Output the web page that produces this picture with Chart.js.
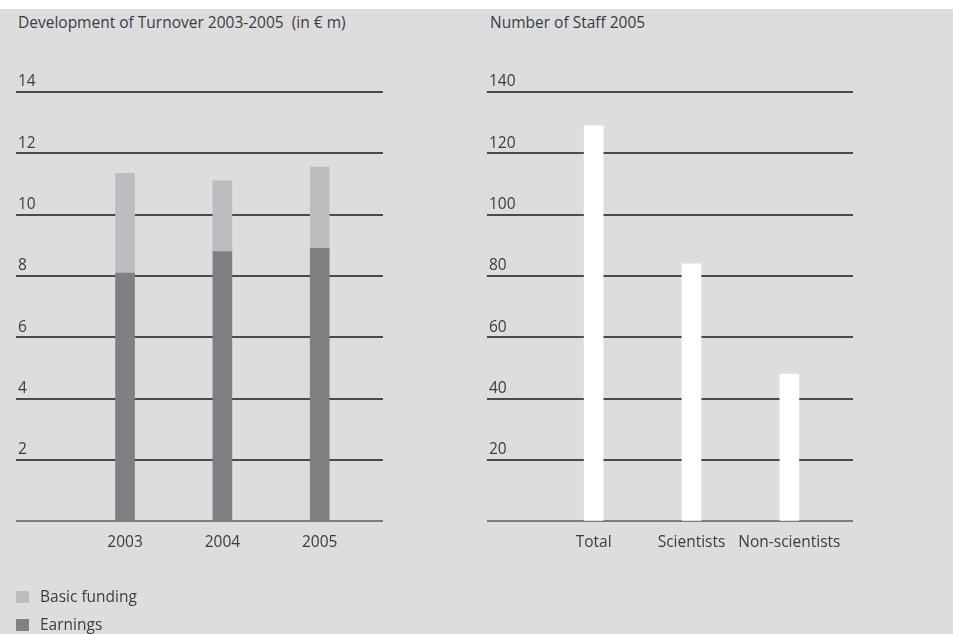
<!DOCTYPE html>
<html>
<head>
<meta charset="utf-8">
<script src="https://cdn.jsdelivr.net/npm/chart.js@4"></script>
<style>
  body { margin: 0; background: #fff; font-family: "Open Sans", sans-serif; color: #3c3c3c; }
  #page { position: absolute; left: 0; top: 9px; width: 953px; height: 625px; background: #dcdddf; }
  .box { position: absolute; top: 0; height: 634px; }
  .title { position: absolute; top: 11px; font-size: 15.5px; white-space: pre; }
  .legend { position: absolute; left: 16px; font-size: 15.5px; }
  .legend span.sw { display: inline-block; width: 13px; height: 12px; margin-right: 11px; vertical-align: -1px; }
</style>
</head>
<body>
<div id="page"></div>
<div class="title" style="left:18px">Development of Turnover 2003-2005  (in € m)</div>
<div class="title" style="left:490px">Number of Staff 2005</div>
<div class="box" style="left:0;width:470px"><canvas id="turnover"></canvas></div>
<div class="box" style="left:470px;width:483px"><canvas id="staff"></canvas></div>
<div id="legend"></div>
<script>
// turnover in EUR m
const years = ['2003', '2004', '2005'];
const earnings = [8.1, 8.8, 8.9];
const basicFunding = [3.25, 2.3, 2.65];

// staff 2005
const staffCats = ['Total', 'Scientists', 'Non-scientists'];
const staff = [129, 84, 48];

const txt = '#3c3c3c';
const font = { family: 'Open Sans', size: 15.5 };

function yScale(max, step) {
  return {
    min: 0, max: max, stacked: true, z: 1,
    border: { display: false },
    grid: {
      drawTicks: false, lineWidth: 2,
      color: c => c.tick && c.tick.value === 0 ? '#7c7c7e' : '#4a4a4a'
    },
    ticks: {
      stepSize: step, mirror: true, padding: 2, labelOffset: -10,
      color: txt, font: font,
      callback: v => v === 0 ? '' : String(v)
    }
  };
}

function xScale(lo, hi, cats) {
  return {
    type: 'linear', min: lo, max: hi, stacked: true, offset: false,
    grid: { display: false, drawTicks: false, offset: false },
    border: { display: false },
    afterBuildTicks: s => { s.ticks = cats.map((c, i) => ({ value: i + 1 })); },
    ticks: { padding: 12, color: txt, font: font, callback: v => cats[v - 1] }
  };
}

Chart.defaults.animation = false;
Chart.defaults.maintainAspectRatio = false;

const turnoverChart = new Chart(document.getElementById('turnover'), {
  type: 'bar',
  data: {
    datasets: [
      { label: 'Earnings', data: earnings.map((v, i) => ({ x: i + 1, y: v })), backgroundColor: '#7f8083', barThickness: 19 },
      { label: 'Basic funding', data: basicFunding.map((v, i) => ({ x: i + 1, y: v })), backgroundColor: '#bcbdc0', barThickness: 19 }
    ]
  },
  options: {
    layout: { padding: { left: 12, right: 87, top: 92, bottom: 70 } },
    scales: { x: xScale(-0.12, 3.65, years), y: yScale(14, 2) },
    plugins: { legend: { display: false }, tooltip: { enabled: false } }
  }
});

new Chart(document.getElementById('staff'), {
  type: 'bar',
  data: {
    datasets: [
      { label: 'Staff', data: staff.map((v, i) => ({ x: i + 1, y: v })), backgroundColor: '#ffffff', barThickness: 19 }
    ]
  },
  options: {
    layout: { padding: { left: 13, right: 100, top: 92, bottom: 70 } },
    scales: { x: xScale(-0.09, 3.65, staffCats), y: yScale(140, 20) },
    plugins: { legend: { display: false }, tooltip: { enabled: false } }
  }
});

// legend for the turnover chart, top of the stack first
const leg = document.getElementById('legend');
turnoverChart.data.datasets.slice().reverse().forEach((ds, i) => {
  const d = document.createElement('div');
  d.className = 'legend';
  d.style.top = (585 + i * 28) + 'px';
  d.innerHTML = '<span class="sw" style="background:' + ds.backgroundColor + '"></span>' + ds.label;
  leg.appendChild(d);
});
</script>
</body>
</html>
